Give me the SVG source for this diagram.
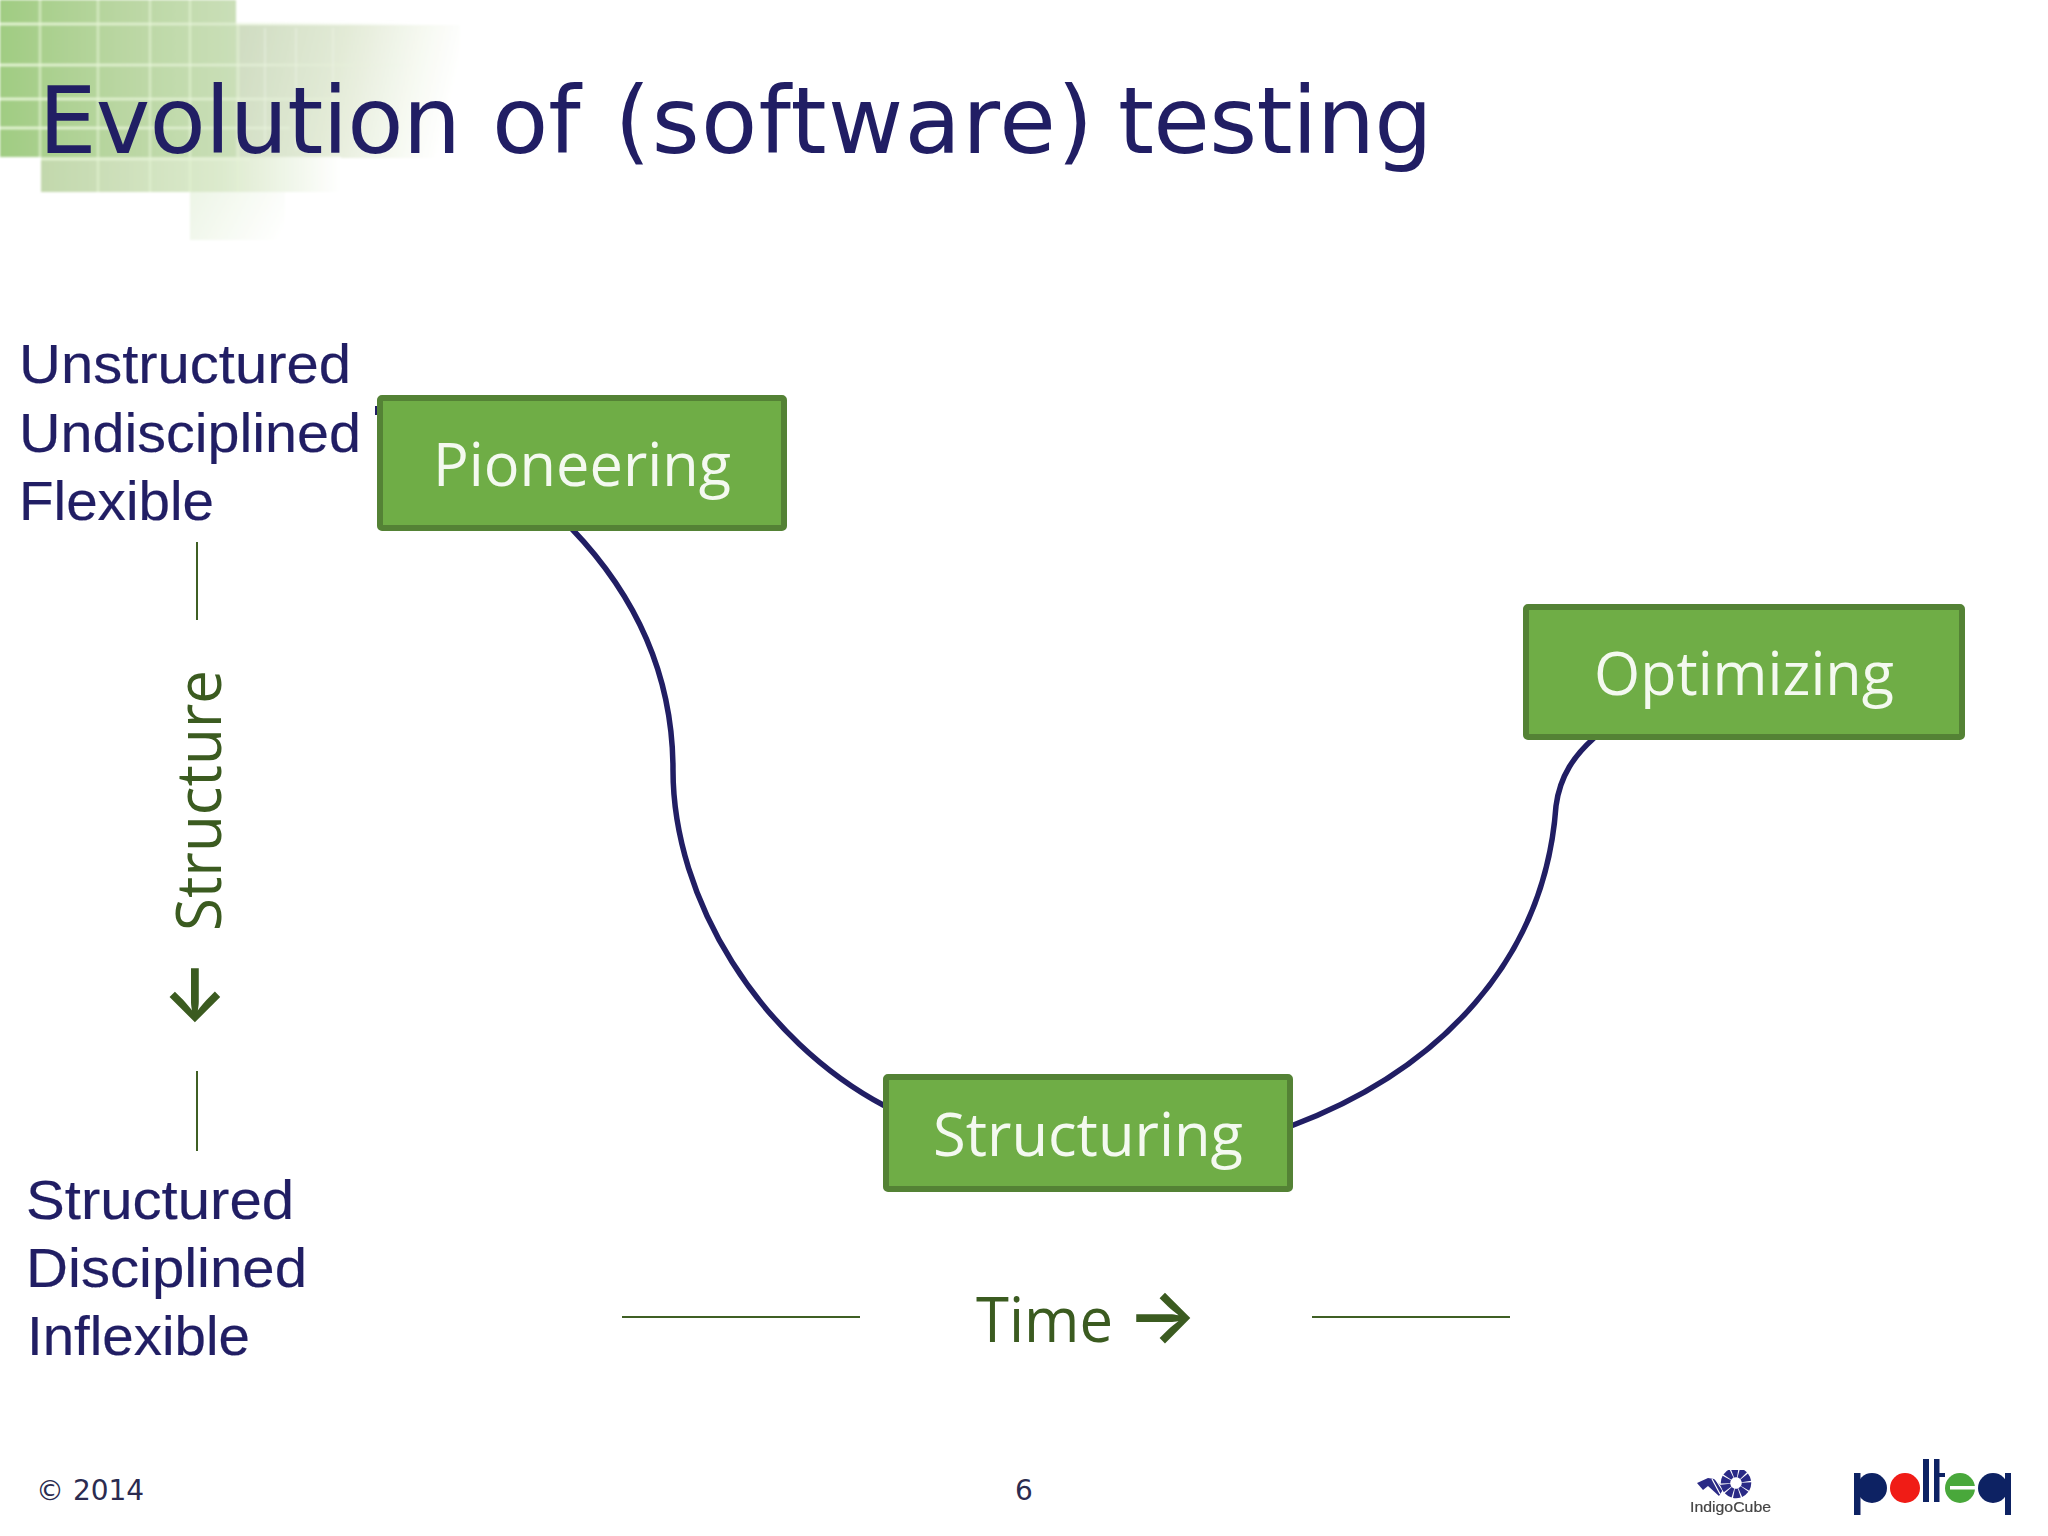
<svg xmlns="http://www.w3.org/2000/svg" width="2048" height="1536" viewBox="0 0 2048 1536">
<defs>
<style>
.node{fill:#6fad46;stroke:#548235;stroke-width:6}
.lab{font-family:"Open Sans",sans-serif;font-size:60px;fill:#f4f9f0;text-anchor:start}
.side{font-family:"Liberation Sans",Arial,sans-serif;font-size:56px;fill:#211e64;stroke:#211e64;stroke-width:.2}
.axis{font-family:"Open Sans",sans-serif;font-size:62px;fill:#3b5b20}
.rule{stroke:#3f5f24;stroke-width:2;fill:none}
.conn{stroke:#211e64;stroke-width:5.5;fill:none}
.foot{font-family:"DejaVu Sans",sans-serif;font-size:28px;fill:#2b2b50}
.arrow{font-family:"Inter",sans-serif;font-weight:600;fill:#3b5b20}
</style>
<linearGradient id="g1" x1="0" x2="1" y1="0" y2="0"><stop offset="0" stop-color="#a0cc82"/><stop offset=".5" stop-color="#b9d6a1"/><stop offset="1" stop-color="#cadfb8"/></linearGradient>
<linearGradient id="g2" gradientUnits="userSpaceOnUse" x1="236" y1="60" x2="450" y2="110"><stop offset="0" stop-color="#d0ddc2"/><stop offset=".45" stop-color="#e2ead6"/><stop offset=".8" stop-color="#f6f9f1"/><stop offset="1" stop-color="#ffffff"/></linearGradient>
<linearGradient id="g3" x1="0" x2="1" y1="0" y2="0"><stop offset="0" stop-color="#c2d8ac"/><stop offset=".6" stop-color="#dceacd"/><stop offset="1" stop-color="#ffffff"/></linearGradient>
<linearGradient id="g4" gradientUnits="userSpaceOnUse" x1="190" y1="192" x2="280" y2="240"><stop offset="0" stop-color="#edf5e6"/><stop offset="1" stop-color="#ffffff"/></linearGradient>
<linearGradient id="lineFade" gradientUnits="userSpaceOnUse" x1="0" y1="0" x2="420" y2="0"><stop offset="0" stop-color="#e6f6d4"/><stop offset=".6" stop-color="#e9f4dc" stop-opacity=".65"/><stop offset="1" stop-color="#e9f4dc" stop-opacity="0"/></linearGradient>
<filter id="soft" x="-5%" y="-5%" width="110%" height="110%"><feGaussianBlur stdDeviation="1"/></filter>
<filter id="soft2" x="-5%" y="-5%" width="110%" height="110%"><feGaussianBlur stdDeviation=".6"/></filter>
</defs>
<rect width="2048" height="1536" fill="#ffffff"/>
<g id="banner" filter="url(#soft)">
<rect x="236" y="25" width="224" height="133" fill="url(#g2)"/>
<rect x="0" y="0" width="236" height="157" fill="url(#g1)"/>
<rect x="41" y="157" width="300" height="35" fill="url(#g3)"/>
<rect x="190" y="192" width="95" height="48" fill="url(#g4)"/>
<path d="M40 0V157M98 0V192M150 0V192M190 0V192M238 25V192" stroke="#e4f3d2" stroke-opacity=".65" stroke-width="2.5" fill="none"/>
<path d="M265 28V150M296 28V150M333 28V110" stroke="#eef5e6" stroke-opacity=".45" stroke-width="2" fill="none"/>
<path d="M0 24H420M0 65H420M0 99H340M0 128H290M41 159H250" stroke="url(#lineFade)" stroke-width="2.5" fill="none"/>
</g>
<text id="title" y="153" font-family="'DejaVu Sans',sans-serif" font-size="92" fill="#211e64"><tspan x="38.5" letter-spacing="-.8">Evolution </tspan><tspan x="492">of </tspan><tspan x="614.5" letter-spacing="1.3">(software) </tspan><tspan x="1118" letter-spacing="-.7">testing</tspan></text>
<g id="connectors">
<path class="conn" d="M572 529C640 600 673 680 673 770C673 900 760 1040 885 1106"/>
<path class="conn" d="M1291 1126C1440 1070 1545 960 1556 806C1560 775 1575 755 1594 738"/>
</g>
<rect x="375" y="406" width="4" height="9" fill="#211e64"/>
<g id="pioneering"><rect class="node" x="380" y="398" width="404" height="130" rx="2"/><text class="lab" x="433" y="486" textLength="298" lengthAdjust="spacingAndGlyphs">Pioneering</text></g>
<g id="optimizing"><rect class="node" x="1526" y="607" width="436" height="130" rx="2"/><text class="lab" x="1594" y="695" textLength="300" lengthAdjust="spacingAndGlyphs">Optimizing</text></g>
<g id="structuring"><rect class="node" x="886" y="1077" width="404" height="112" rx="2"/><text class="lab" x="933" y="1156" textLength="310" lengthAdjust="spacingAndGlyphs">Structuring</text></g>
<g id="top-labels">
<text class="side" x="19" y="383" textLength="332" lengthAdjust="spacingAndGlyphs">Unstructured</text>
<text class="side" x="19" y="452" textLength="342" lengthAdjust="spacingAndGlyphs">Undisciplined</text>
<text class="side" x="19" y="520" textLength="195" lengthAdjust="spacingAndGlyphs">Flexible</text>
</g>
<g id="bottom-labels">
<text class="side" x="26" y="1219" textLength="268" lengthAdjust="spacingAndGlyphs">Structured</text>
<text class="side" x="26" y="1287" textLength="281" lengthAdjust="spacingAndGlyphs">Disciplined</text>
<text class="side" x="27" y="1355" textLength="223" lengthAdjust="spacingAndGlyphs">Inflexible</text>
</g>
<g id="structure-axis">
<path class="rule" d="M197 542V620M197 1071V1151"/>
<text class="axis" transform="translate(221 931) rotate(-90)" textLength="261" lengthAdjust="spacingAndGlyphs">Structure</text>
<text class="arrow" font-size="74" transform="translate(170.5 959) rotate(90)">→</text>
</g>
<g id="time-axis">
<path class="rule" d="M622 1317H860M1312 1317H1510"/>
<text class="axis" x="976" y="1342" textLength="137" lengthAdjust="spacingAndGlyphs">Time</text>
<text class="arrow" font-size="74" transform="translate(1127 1342)">→</text>
</g>
<g id="footer">
<text class="foot" x="36" y="1500">© 2014</text>
<text class="foot" x="1015" y="1500">6</text>
</g>
<g id="logo-indigocube" filter="url(#soft2)">
<path d="M1697 1483L1708 1478L1714 1479L1724 1488L1719 1496L1708 1486L1703 1490Z" fill="#2c2a86"/>
<path d="M1712 1479L1720 1494M1716 1480L1723 1491" stroke="#fff" stroke-width="1.2"/>
<circle cx="1736" cy="1483" r="10.5" fill="none" stroke="#2c2a86" stroke-width="9.5" stroke-dasharray="5.5 1"/>
<text x="1690" y="1512" font-family="'Liberation Sans',sans-serif" font-size="15" fill="#444" stroke="#444" stroke-width=".2" textLength="81" lengthAdjust="spacingAndGlyphs">IndigoCube</text>
</g>
<g id="logo-polteq" filter="url(#soft2)">
<rect x="1854" y="1473" width="6.5" height="42" fill="#0f2163"/><circle cx="1872" cy="1488" r="15" fill="#0f2163"/>
<circle cx="1905" cy="1488" r="15" fill="#f01a14"/>
<rect x="1923" y="1459" width="6" height="43" fill="#0f2163"/><rect x="1934" y="1459" width="5.5" height="43" fill="#0f2163"/><rect x="1934" y="1473" width="11" height="4" fill="#0f2163"/>
<circle cx="1960" cy="1488" r="15" fill="#4aa83a"/><rect x="1950" y="1486" width="25" height="3.5" fill="#fff"/>
<circle cx="1993" cy="1488" r="15" fill="#0f2163"/><rect x="2005" y="1473" width="6" height="42" fill="#0f2163"/>
</g>
</svg>
